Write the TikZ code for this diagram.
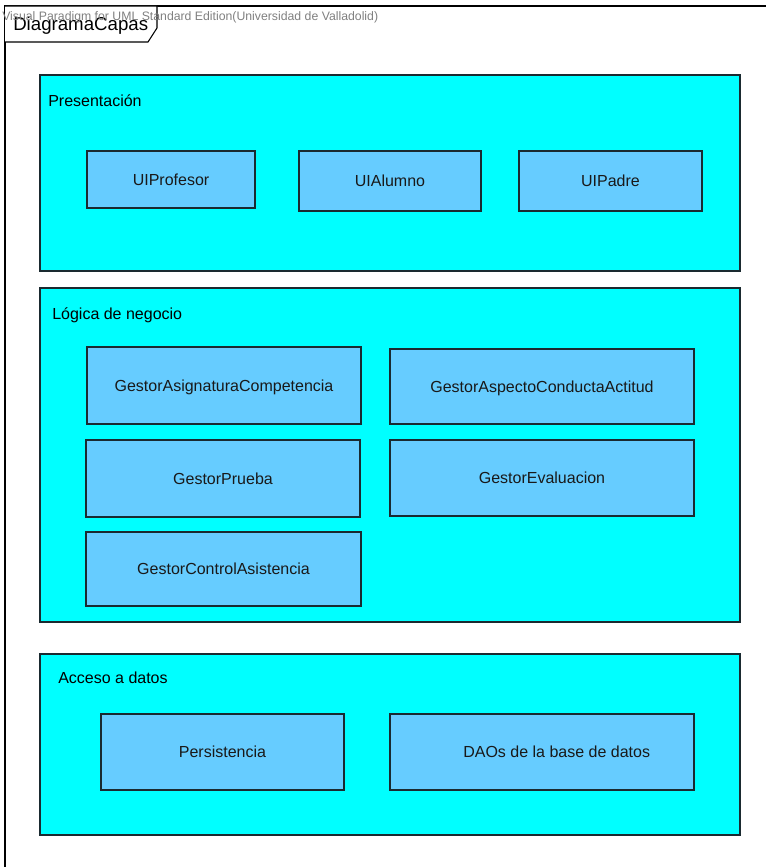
\documentclass[tikz,border=0pt]{standalone}
\usepackage{fontspec}
\setmainfont{Liberation Sans}
\usepackage{tikz}
\usetikzlibrary{shadows}

\definecolor{capa}{HTML}{00FFFF}
\definecolor{componente}{HTML}{66CCFF}
\definecolor{borde}{HTML}{1A2A30}

\tikzset{
	capa/.style={shape=rectangle, draw=borde, line width=1.1pt, fill=capa,
		drop shadow={shadow xshift=1pt, shadow yshift=-1pt, fill=black!35, opacity=1}},
	comp/.style={shape=rectangle, draw=borde, line width=0.8pt, fill=componente,
		text=black!90, text depth=0pt, font=\fontsize{12}{14}\selectfont},
	capalabel/.style={anchor=west, inner sep=0pt, text=black, font=\fontsize{12}{14}\selectfont},
}

\begin{document}
\begin{tikzpicture}[x=0.75pt, y=-0.75pt]
		\useasboundingbox (0, 0) rectangle (766, 867);
		% Frame and tab:
		\draw[line width=1pt] (766, 6) -- (5, 6) -- (5, 867);
		\draw[line width=0.8pt, fill=white] (5, 6) -- (157, 6) -- (157, 28) -- (148, 42) -- (5, 42);
		\node[anchor=west, inner sep=0pt, font=\fontsize{14}{16}\selectfont](Titulo) at (13, 26){DiagramaCapas};
		\node[anchor=west, inner sep=0pt, text=black!50, font=\fontsize{9.2}{11}\selectfont](Marca) at (2, 17){Visual Paradigm for UML Standard Edition(Universidad de Valladolid)};
		% Layers:
		\node[capa, minimum width=525pt, minimum height=147pt](Presentacion) at (390, 173){};
		\node[capa, minimum width=525pt, minimum height=250.5pt](Logica) at (390, 455){};
		\node[capa, minimum width=525pt, minimum height=135.75pt](Acceso) at (390, 744.5){};
		\node[capalabel](L1) at (48, 101){Presentación};
		\node[capalabel](L2) at (52, 315){Lógica de negocio};
		\node[capalabel](L3) at (58, 678){Acceso a datos};
		% Presentation components:
		\node[comp, minimum width=126pt, minimum height=42.75pt](UIProfesor) at (171, 179.5){UIProfesor};
		\node[comp, minimum width=136.5pt, minimum height=45pt](UIAlumno) at (390, 181){UIAlumno};
		\node[comp, minimum width=137.25pt, minimum height=45pt](UIPadre) at (610.5, 181){UIPadre};
		% Business logic components:
		\node[comp, minimum width=205.5pt, minimum height=57.75pt](GAsigComp) at (224, 385.5){GestorAsignaturaCompetencia};
		\node[comp, minimum width=228pt, minimum height=56.25pt](GAspCond) at (542, 386.5){GestorAspectoConductaActitud};
		\node[comp, minimum width=205.5pt, minimum height=57.75pt](GPrueba) at (223, 478.5){GestorPrueba};
		\node[comp, minimum width=228pt, minimum height=57pt](GEvaluacion) at (542, 478){GestorEvaluacion};
		\node[comp, minimum width=206.25pt, minimum height=55.5pt](GControl) at (223.5, 569){GestorControlAsistencia};
		% Data access components:
		\node[comp, minimum width=182.25pt, minimum height=57pt](Persistencia) at (222.5, 752){Persistencia};
		\node[comp, minimum width=228pt, minimum height=57pt](DAOs) at (542, 752){\hspace{22pt}DAOs de la base de datos};
	\end{tikzpicture}
\end{document}
